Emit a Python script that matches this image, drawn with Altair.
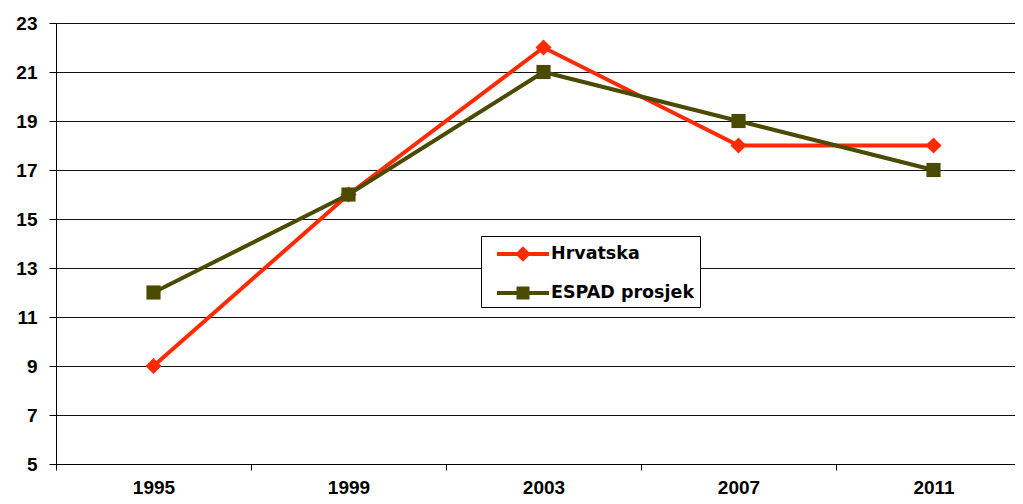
import altair as alt
import pandas as pd

years = ["1995", "1999", "2003", "2007", "2011"]
hrvatska = [9, 16, 22, 18, 18]
espad = [12, 16, 21, 19, 17]
series_names = ["Hrvatska", "ESPAD prosjek"]
series_colors = ["#ff2a00", "#4a4a00"]
y_ticks = [5, 7, 9, 11, 13, 15, 17, 19, 21, 23]

rows = []
for yr, v in zip(years, hrvatska):
    rows.append({"year": yr, "value": v, "series": series_names[0]})
for yr, v in zip(years, espad):
    rows.append({"year": yr, "value": v, "series": series_names[1]})
df = pd.DataFrame(rows)

FONT = "Liberation Sans"

x_enc = alt.X(
    "year:N",
    sort=years,
    scale=alt.Scale(type="band", paddingInner=0, paddingOuter=0, range=[0, 975]),
    axis=alt.Axis(
        title=None, labelAngle=0, tickBand="extent", grid=False,
        domainColor="#000", domainWidth=1, tickColor="#000", tickSize=6,
        labelFont=FONT, labelFontSize=19, labelFontWeight="bold",
        labelColor="#000", labelPadding=8,
    ),
)
y_enc = alt.Y(
    "value:Q",
    scale=alt.Scale(domain=[5, 23], nice=False, zero=False),
    axis=alt.Axis(
        title=None, values=y_ticks, grid=True, gridColor="#111", gridWidth=1,
        domainColor="#000", domainWidth=1, tickColor="#000", tickSize=7,
        labelFont=FONT, labelFontSize=19, labelFontWeight="bold",
        labelColor="#000", labelPadding=12,
    ),
)

line_sym = "M-2,-0.15L2,-0.15L2,0.15L-2,0.15Z M0,-0.6L0.6,0L0,0.6L-0.6,0Z"
sq_sym = "M-2,-0.15L2,-0.15L2,0.15L-2,0.15Z M-0.5,-0.5L0.5,-0.5L0.5,0.5L-0.5,0.5Z"

legend = alt.Legend(
    title=None, orient="none", legendX=425, legendY=213, direction="vertical",
    strokeColor="#000", fillColor="#fff", padding=5,
    symbolSize=676, symbolStrokeWidth=0, symbolOpacity=1,
    symbolOffset=24, labelOffset=15, rowPadding=17,
    labelFont="DejaVu Sans", labelFontSize=17.5, labelFontWeight="bold",
    labelColor="#000",
)

layers = []
for name, col, shape, size in [
    (series_names[0], series_colors[0], "diamond", 260),
    (series_names[1], series_colors[1], "square", 200),
]:
    base = alt.Chart(df).transform_filter(alt.datum.series == name)
    layers.append(
        base.mark_line(strokeWidth=4, color=col).encode(x=x_enc, y=y_enc)
    )
    layers.append(
        base.mark_point(filled=True, opacity=1, shape=shape, size=size, color=col).encode(
            x=x_enc, y=y_enc
        )
    )

legend_layer = alt.Chart(df).mark_point(filled=True, opacity=0).encode(
    x=x_enc, y=y_enc,
    color=alt.Color("series:N", scale=alt.Scale(domain=series_names, range=series_colors), legend=legend),
    shape=alt.Shape("series:N", scale=alt.Scale(domain=series_names, range=[line_sym, sq_sym]), legend=legend),
)
layers.append(legend_layer)

chart = alt.layer(*layers).properties(
    width=959, height=441,
    autosize=alt.AutoSizeParams(type="none"),
    padding={"left": 48, "top": 15, "right": 0, "bottom": 32},
).configure_view(stroke=None).configure(background="#ffffff")

chart.save("out.html", embed_options={"renderer": "svg", "actions": False})
